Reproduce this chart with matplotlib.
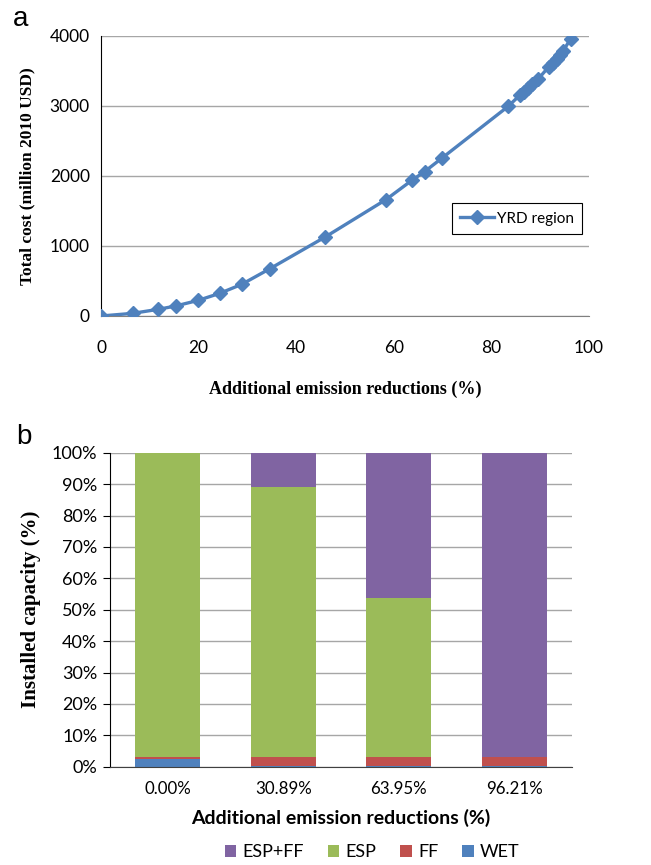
import matplotlib
matplotlib.use("Agg")
import matplotlib.pyplot as plt
import numpy as np

# panel a: cost curve
reduction = [0, 6.5, 11.7, 15.3, 19.9, 24.3, 28.8, 34.6, 46.0, 58.4, 63.7, 66.3, 69.8,
             83.4, 85.9, 86.7, 87.6, 88.4, 89.6, 91.8, 92.6, 93.4, 94.0, 94.7, 96.21]
total_cost = [0, 38, 95, 143, 223, 323, 451, 675, 1131, 1663, 1938, 2062, 2252,
              2993, 3159, 3207, 3254, 3311, 3387, 3563, 3620, 3672, 3724, 3786, 3957]

# panel b: installed capacity shares (%)
scenarios = ["0.00%", "30.89%", "63.95%", "96.21%"]
wet = [2.3, 0.3, 0.3, 0.1]
ff = [0.9, 2.9, 2.9, 3.1]
esp = [96.8, 85.8, 50.4, 0.0]
esp_ff = [0.0, 11.0, 46.4, 96.8]

blue = "#4F81BD"
red = "#C0504D"
green = "#9BBB59"
purple = "#8064A2"
tick_font = "Lato"
serif = "Liberation Serif"

fig = plt.figure(figsize=(6.51, 8.65), dpi=100)

ax1 = fig.add_axes([101/651, 1-316/865, 488/651, 280/865])
ax1.plot(reduction, total_cost, color=blue, lw=2.4, marker="D", ms=7,
         label="YRD region", zorder=3)
ax1.set_xlim(0, 100)
ax1.set_ylim(0, 4000)
ax1.set_xticks([0, 20, 40, 60, 80, 100])
ax1.set_yticks([0, 1000, 2000, 3000, 4000])
ax1.grid(axis="y", color="#A6A6A6", lw=1)
ax1.set_axisbelow(True)
for s in ["top", "right"]:
    ax1.spines[s].set_visible(False)
ax1.spines["left"].set_color("black")
ax1.spines["left"].set_linewidth(0.8)
ax1.spines["bottom"].set_color("#808080")
ax1.tick_params(axis="x", length=0, pad=17, labelsize=12.5)
ax1.tick_params(axis="y", length=0, pad=8, labelsize=12.5)
for lab in ax1.get_xticklabels() + ax1.get_yticklabels():
    lab.set_fontfamily(tick_font)
ax1.set_xlabel("Additional emission reductions (%)", fontfamily=serif,
               fontweight="bold", fontsize=13, labelpad=18)
ax1.set_ylabel("Total cost (million 2010 USD)", fontfamily=serif,
               fontweight="bold", fontsize=12.5, labelpad=10)
leg = ax1.legend(loc="lower left", bbox_to_anchor=(0.719, 0.292), borderaxespad=0,
                 fancybox=False, edgecolor="black", framealpha=1,
                 prop={"family": tick_font, "size": 11}, handlelength=2.2,
                 handletextpad=0.2, borderpad=0.55)
leg.get_frame().set_linewidth(0.8)
fig.text(13/651, 1-19/865, "a", fontsize=20, fontfamily="Liberation Sans", va="center")

ax2 = fig.add_axes([110/651, 1-766.7/865, 462/651, 314/865])
x = np.arange(len(scenarios))
w = 0.567
b1 = np.array(wet)
b2 = b1 + np.array(ff)
b3 = b2 + np.array(esp)
ax2.bar(x, wet, w, color=blue, label="WET", zorder=2)
ax2.bar(x, ff, w, bottom=b1, color=red, label="FF", zorder=2)
ax2.bar(x, esp, w, bottom=b2, color=green, label="ESP", zorder=2)
ax2.bar(x, esp_ff, w, bottom=b3, color=purple, label="ESP+FF", zorder=2)
ax2.set_xlim(-0.5, len(scenarios) - 0.5)
ax2.set_ylim(0, 100)
ax2.set_yticks(np.arange(0, 101, 10))
ax2.set_yticklabels([f"{v}%" for v in range(0, 101, 10)])
ax2.set_xticks(x)
ax2.set_xticklabels(scenarios)
ax2.grid(axis="y", color="#A6A6A6", lw=1)
ax2.set_axisbelow(True)
for s in ["top", "right"]:
    ax2.spines[s].set_visible(False)
ax2.spines["left"].set_linewidth(0.8)
ax2.spines["bottom"].set_color("#404040")
ax2.tick_params(axis="y", length=5, width=0.8, direction="out", pad=4, labelsize=13)
ax2.tick_params(axis="x", length=0, pad=10, labelsize=12.2)
for lab in ax2.get_xticklabels() + ax2.get_yticklabels():
    lab.set_fontfamily(tick_font)
ax2.set_xlabel("Additional emission reductions (%)", fontfamily=tick_font,
               fontweight="bold", fontsize=14, labelpad=9)
ax2.set_ylabel("Installed capacity (%)", fontfamily=serif,
               fontweight="bold", fontsize=15, labelpad=8)
handles, labels = ax2.get_legend_handles_labels()
fig.legend(handles[::-1], labels[::-1], loc="center", bbox_to_anchor=(372/651, 1-852/865),
           ncol=4, frameon=False, prop={"family": tick_font, "size": 13},
           handlelength=0.65, handleheight=0.65, handletextpad=0.35, columnspacing=1.3)
fig.text(16/651, 1-437/865, "b", fontsize=20, fontfamily="Liberation Sans", va="center")

fig.savefig("out.png", dpi=100)
